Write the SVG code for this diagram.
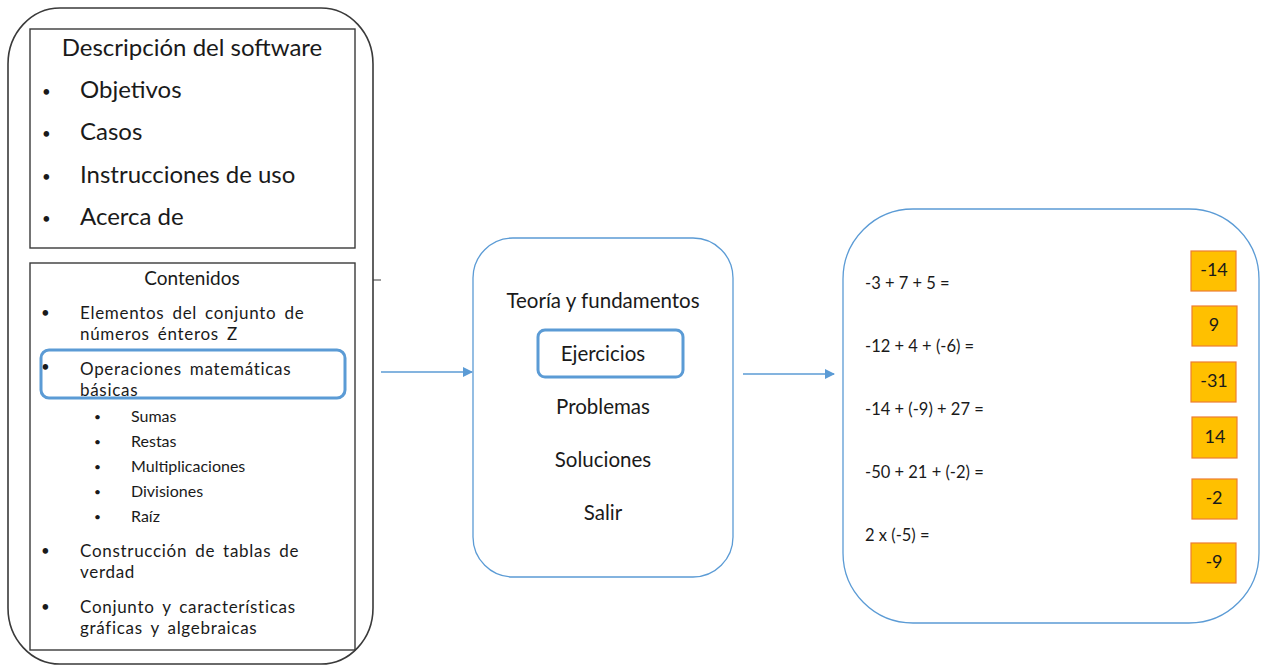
<svg xmlns="http://www.w3.org/2000/svg" width="1264" height="666" viewBox="0 0 1264 666">
<style>
text{font-family:Lato,"Open Sans","Liberation Sans",sans-serif;fill:#1a1a1a}
.big{font-size:24px}
.mid{font-size:17px;letter-spacing:0.7px;word-spacing:3px}
.hd{font-size:19px}
.sm{font-size:16px}
.bul{font-size:15px}
.bul2{font-size:12px}
.menu{font-size:20.5px;text-anchor:middle}
.eq{font-size:16.5px}
.ans{font-size:18px;text-anchor:middle}
.frame{fill:#fff;stroke:#3a3a3a;stroke-width:1.6}
.inner{fill:none;stroke:#3a3a3a;stroke-width:1.4}
.blue{fill:none;stroke:#5B9BD5;stroke-width:1.3}
.hl{fill:none;stroke:#5B9BD5;stroke-width:3}
.box{fill:#FFC000;stroke:#ED7D31;stroke-width:1.2}
.conn{stroke:#5B9BD5;stroke-width:1.3;fill:none}
</style>
<defs>
<marker id="ah" markerWidth="10" markerHeight="10" refX="9" refY="5" orient="auto" markerUnits="userSpaceOnUse" viewBox="0 0 10 10">
<path d="M0,0 L10,5 L0,10 z" fill="#5B9BD5"/>
</marker>
</defs>
<rect width="1264" height="666" fill="#fff"/>

<g id="left-panel">
<rect class="frame" x="8" y="8" width="365" height="656" rx="52" ry="56"/>
<rect class="inner" x="30" y="29" width="325" height="219"/>
<text class="big" x="192" y="56" text-anchor="middle">Descripción del software</text>
<text class="bul" x="42" y="97">•</text><text class="big" x="80" y="98">Objetivos</text>
<text class="bul" x="42" y="139">•</text><text class="big" x="80" y="140">Casos</text>
<text class="bul" x="42" y="182">•</text><text class="big" x="80" y="183">Instrucciones de uso</text>
<text class="bul" x="42" y="224">•</text><text class="big" x="80" y="225">Acerca de</text>

<rect class="inner" x="30" y="263" width="325" height="387"/>
<text class="hd" x="192" y="285" text-anchor="middle">Contenidos</text>
<text class="bul" x="41" y="318">•</text><text class="mid" x="80" y="319">Elementos del conjunto de</text>
<text class="mid" x="80" y="340">números énteros Z</text>
<text class="bul" x="41" y="372">•</text><text class="mid" x="80" y="375">Operaciones matemáticas</text>
<text class="mid" x="80" y="396">básicas</text>
<text class="bul2" x="94" y="421">•</text><text class="sm" x="131" y="422">Sumas</text>
<text class="bul2" x="94" y="446">•</text><text class="sm" x="131" y="447">Restas</text>
<text class="bul2" x="94" y="471">•</text><text class="sm" x="131" y="472">Multiplicaciones</text>
<text class="bul2" x="94" y="496">•</text><text class="sm" x="131" y="497">Divisiones</text>
<text class="bul2" x="94" y="521">•</text><text class="sm" x="131" y="522">Raíz</text>
<text class="bul" x="41" y="556">•</text><text class="mid" x="80" y="557">Construcción de tablas de</text>
<text class="mid" x="80" y="578">verdad</text>
<text class="bul" x="41" y="612">•</text><text class="mid" x="80" y="613">Conjunto y características</text>
<text class="mid" x="80" y="634">gráficas y algebraicas</text>
<rect class="hl" x="41" y="350" width="304" height="48" rx="8"/>
</g>

<g id="menu-panel">
<rect class="blue" x="473" y="238" width="260" height="339" rx="40"/>
<text class="menu" x="603" y="308">Teoría y fundamentos</text>
<rect class="hl" x="538" y="330" width="145" height="47" rx="7"/>
<text class="menu" x="603" y="361">Ejercicios</text>
<text class="menu" x="603" y="414">Problemas</text>
<text class="menu" x="603" y="467">Soluciones</text>
<text class="menu" x="603" y="520">Salir</text>
</g>

<g id="exercise-panel">
<rect class="blue" x="843" y="209" width="416" height="414" rx="70"/>
<text class="eq" x="865" y="289">-3 + 7 + 5 =</text>
<text class="eq" x="865" y="352">-12 + 4 + (-6) =</text>
<text class="eq" x="865" y="415">-14 + (-9) + 27 =</text>
<text class="eq" x="865" y="478">-50 + 21 + (-2) =</text>
<text class="eq" x="865" y="541">2 x (-5) =</text>
<rect class="box" x="1191" y="251" width="45" height="40"/><text class="ans" x="1214" y="276">-14</text>
<rect class="box" x="1192" y="306" width="45" height="40"/><text class="ans" x="1214" y="331">9</text>
<rect class="box" x="1191" y="362" width="45" height="40"/><text class="ans" x="1214" y="387">-31</text>
<rect class="box" x="1192" y="417" width="45" height="41"/><text class="ans" x="1215" y="443">14</text>
<rect class="box" x="1192" y="479" width="45" height="40"/><text class="ans" x="1214" y="504">-2</text>
<rect class="box" x="1191" y="543" width="45" height="40"/><text class="ans" x="1214" y="568">-9</text>
</g>

<g id="connectors">
<line x1="373" y1="280" x2="381" y2="280" stroke="#3a3a3a" stroke-width="1"/>
<line class="conn" x1="381" y1="372" x2="472" y2="372" marker-end="url(#ah)"/>
<line class="conn" x1="743" y1="374" x2="834" y2="374" marker-end="url(#ah)"/>
</g>
</svg>
